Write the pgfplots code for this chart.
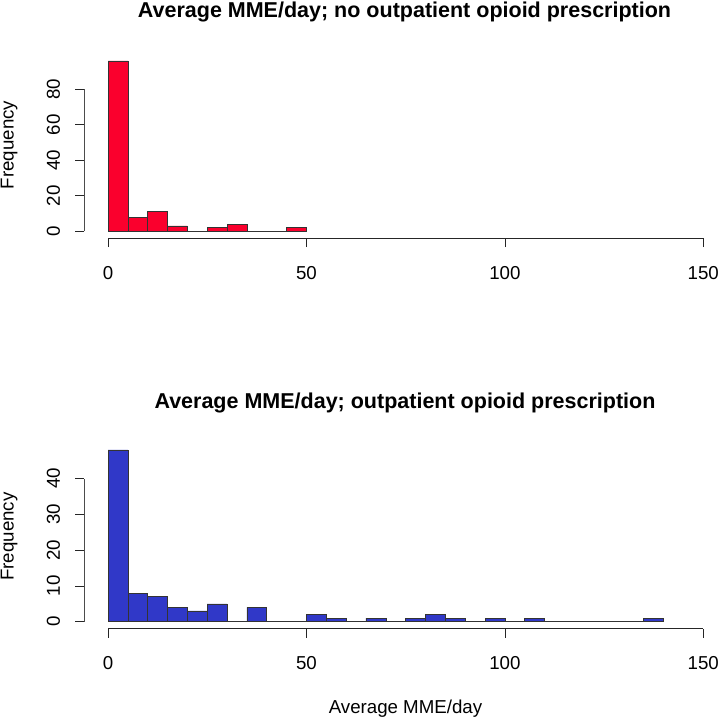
\documentclass[border=0pt]{standalone}
\usepackage{pgfplots}
\pgfplotsset{compat=1.18}
\usepackage{fontspec}
\setmainfont{Liberation Sans}
\definecolor{histred}{RGB}{250,0,45}
\definecolor{histblue}{RGB}{48,56,200}
\pgfplotsset{
  rhist/.style={
    scale only axis,
    xmin=-6, xmax=156,
    axis line style={draw=none},
    xtick={0,50,100,150},
    xtick pos=bottom, ytick pos=left,
    tick align=outside,
    major tick length=9pt,
    tick style={black!85, line width=0.7pt},
    /pgf/number format/assume math mode=true,
    tick label style={font=\fontsize{18.7}{22}\selectfont},
    xticklabel style={anchor=north, inner sep=0pt},
    xticklabel shift=19pt,
    yticklabel style={rotate=90, anchor=south, inner sep=0pt},
    yticklabel shift=15pt,
    clip=false,
  }
}
\begin{document}
\begin{tikzpicture}
\useasboundingbox (0pt,0pt) rectangle (720pt,720pt);
\fill[white] (0pt,0pt) rectangle (720pt,720pt);
% top panel
\begin{axis}[rhist, at={(84.2pt,481.9pt)}, anchor=south west,
  width=642.9pt, height=184pt,
  ymin=-3.84, ymax=99.84, ytick={0,20,40,60,80}]
\addplot[ybar interval, fill=histred, draw=black!80, line width=0.6pt] coordinates {
(0,96) (5,8) (10,11) (15,3) (20,0) (25,2) (30,4) (35,0) (40,0) (45,2) (50,0)};
\draw[black!85, line width=0.7pt] (axis cs:0,-3.84) -- (axis cs:150,-3.84);
\draw[black!70, line width=0.7pt] (axis cs:-6,0) -- (axis cs:-6,80);
\end{axis}
% bottom panel
\begin{axis}[rhist, at={(84.2pt,91.4pt)}, anchor=south west,
  width=642.9pt, height=185.6pt,
  ymin=-1.92, ymax=49.92, ytick={0,10,20,30,40}]
\addplot[ybar interval, fill=histblue, draw=black!80, line width=0.6pt] coordinates {
(0,48) (5,8) (10,7) (15,4) (20,3) (25,5) (30,0) (35,4) (40,0) (45,0)
(50,2) (55,1) (60,0) (65,1) (70,0) (75,1) (80,2) (85,1) (90,0) (95,1)
(100,0) (105,1) (110,0) (115,0) (120,0) (125,0) (130,0) (135,1) (140,0)};
\draw[black!85, line width=0.7pt] (axis cs:0,-1.92) -- (axis cs:150,-1.92);
\draw[black!70, line width=0.7pt] (axis cs:-6,0) -- (axis cs:-6,40);
\end{axis}
% titles and labels
\node[anchor=base, font=\fontsize{21.5}{25}\selectfont\bfseries] at (404.5pt,702.7pt) {Average MME/day; no outpatient opioid prescription};
\node[anchor=base, font=\fontsize{21.5}{25}\selectfont\bfseries] at (405pt,311.7pt) {Average MME/day; outpatient opioid prescription};
\node[anchor=base, font=\fontsize{18.7}{22}\selectfont] at (405.5pt,6pt) {Average MME/day};
\node[rotate=90, anchor=north, inner sep=0pt, font=\fontsize{18.7}{22}\selectfont] at (0.5pt,575pt) {Frequency};
\node[rotate=90, anchor=north, inner sep=0pt, font=\fontsize{18.7}{22}\selectfont] at (0.5pt,183.5pt) {Frequency};
\end{tikzpicture}
\end{document}
